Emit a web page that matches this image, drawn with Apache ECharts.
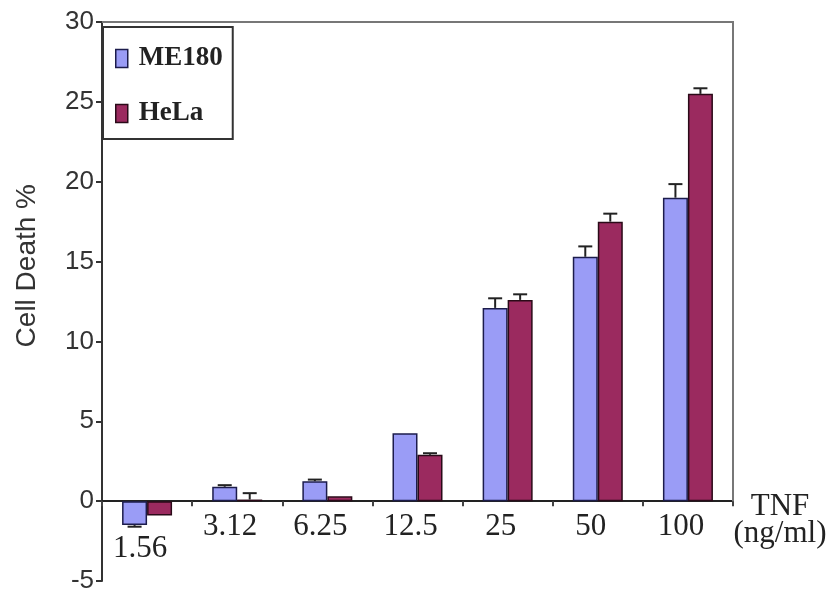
<!DOCTYPE html>
<html>
<head>
<meta charset="utf-8">
<script src="https://cdn.jsdelivr.net/npm/echarts@6/dist/echarts.min.js"></script>
<style>
  html, body { margin: 0; padding: 0; background: #fff; }
  #chart { width: 831px; height: 589px; }
</style>
</head>
<body>
<div id="chart"></div>
<script>
var doses = ['1.56', '3.12', '6.25', '12.5', '25', '50', '100'];
var me180 = [-1.5, 0.9, 1.25, 4.25, 12.1, 15.3, 19.0];
var me180Err = [0.1, 0.1, 0.1, 0, 0.6, 0.65, 0.85];
var hela = [-0.9, 0.1, 0.3, 2.9, 12.6, 17.5, 25.5];
var helaErr = [0, 0.4, 0, 0.1, 0.35, 0.5, 0.35];

var chart = echarts.init(document.getElementById('chart'));

// error bar drawn above (or below for negative) each bar
function errItem(shift) {
    return function (params, api) {
        var idx = api.value(0), v = api.value(1), e = api.value(2);
        if (!e) return;
        var top = v + (v < 0 ? -e : e);
        var p0 = api.coord([idx, v]);
        var p1 = api.coord([idx, top]);
        var x = p0[0] + shift;
        var st = { stroke: '#222', lineWidth: 2 };
        return {
            type: 'group',
            children: [
                { type: 'line', shape: { x1: x, y1: p0[1], x2: x, y2: p1[1] }, style: st },
                { type: 'line', shape: { x1: x - 7, y1: p1[1], x2: x + 7, y2: p1[1] }, style: st }
            ]
        };
    };
}

function errData(vals, errs) {
    var out = [];
    for (var i = 0; i < vals.length; i++) out.push([i, vals[i], errs[i]]);
    return out;
}

// the first label sits below its negative bars
var xData = doses.map(function (d, i) {
    return i === 0 ? { value: d, textStyle: { padding: [22, 14, 0, 0] } } : d;
});

var option = {
    animation: false,
    grid: { left: 102, right: 98, top: 22, bottom: 8, outerBoundsMode: 'none' },
    legend: {
        orient: 'vertical',
        left: 103,
        top: 27,
        padding: [18, 10, 12, 12],
        itemGap: 28,
        itemWidth: 12,
        itemHeight: 18,
        icon: 'rect',
        borderColor: '#333',
        borderWidth: 2,
        textStyle: { fontFamily: 'Liberation Serif', fontWeight: 'bold', fontSize: 27, color: '#222', padding: [0, 0, 0, 6] },
        data: [
            { name: 'ME180', itemStyle: { borderColor: '#1c1c4c', borderWidth: 1.5 } },
            { name: 'HeLa', itemStyle: { borderColor: '#2a0a18', borderWidth: 1.5 } }
        ]
    },
    xAxis: {
        type: 'category',
        data: xData,
        name: 'TNF\n(ng/ml)',
        nameLocation: 'end',
        nameGap: 47,
        nameTextStyle: { fontFamily: 'Liberation Serif', fontSize: 31, color: '#222', align: 'center', verticalAlign: 'top', lineHeight: 27, padding: [-8, 0, 0, 0] },
        axisLine: { onZero: true, lineStyle: { color: '#222', width: 2 } },
        axisTick: { show: true, length: 5, lineStyle: { color: '#444', width: 2 } },
        axisLabel: { fontFamily: 'Liberation Serif', fontSize: 31, color: '#222', margin: 6, padding: [0, 14, 0, 0] }
    },
    yAxis: {
        type: 'value',
        min: -5,
        max: 30,
        interval: 5,
        splitLine: { show: false },
        axisLine: { show: true, lineStyle: { color: '#333', width: 2 } },
        axisTick: { show: true, length: 6, lineStyle: { color: '#333', width: 2 } },
        axisLabel: { fontFamily: 'Liberation Sans', fontSize: 26, color: '#333', margin: 8 }
    },
    series: [
        {
            name: 'ME180', type: 'bar', data: me180, barWidth: 25, barGap: '0%',
            itemStyle: { color: '#9a9cf6', borderColor: '#1c1c4c', borderWidth: 1.5 }
        },
        {
            name: 'HeLa', type: 'bar', data: hela, barWidth: 25, barGap: '0%',
            itemStyle: { color: '#9b2a5f', borderColor: '#2a0a18', borderWidth: 1.5 }
        },
        { type: 'custom', renderItem: errItem(-12.5), data: errData(me180, me180Err), z: 5 },
        { type: 'custom', renderItem: errItem(12.5), data: errData(hela, helaErr), z: 5 }
    ]
};
chart.setOption(option);

// frame: top edge and right edge down to zero line
var yTop = chart.convertToPixel({ yAxisIndex: 0 }, 30);
var yZero = chart.convertToPixel({ yAxisIndex: 0 }, 0);
var yMin = chart.convertToPixel({ yAxisIndex: 0 }, -5);
var xLeft = 102, xRight = 831 - 98;
chart.setOption({
    // keep the dose labels just under the zero line
    xAxis: { axisLabel: { margin: Math.round(yZero - yMin) + 10 } },
    graphic: [
        { type: 'polyline', shape: { points: [[xLeft, yTop], [xRight, yTop], [xRight, yZero]] }, style: { stroke: '#777', lineWidth: 2, fill: null }, z: 1 },
        { type: 'text', left: 13, top: 184, rotation: Math.PI / 2,
          style: { text: 'Cell Death %', font: '28px "Liberation Sans"', fill: '#333' } }
    ]
});
</script>
</body>
</html>
